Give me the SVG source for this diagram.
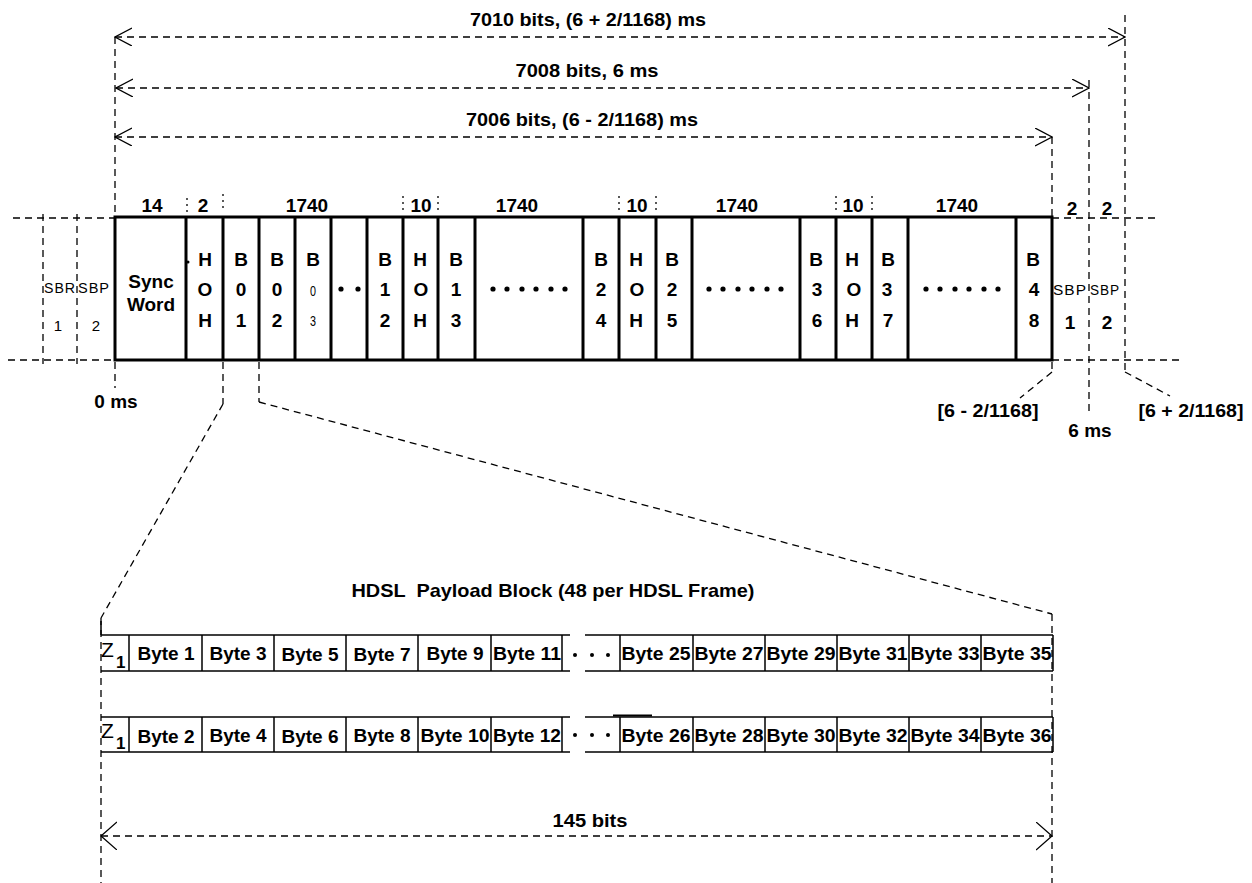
<svg xmlns="http://www.w3.org/2000/svg" width="1252" height="883" viewBox="0 0 1252 883">
<style>
.frame{fill:none;stroke:#000;stroke-width:3}
.thin{fill:none;stroke:#000;stroke-width:1.5}
.dash{fill:none;stroke:#000;stroke-width:1.3;stroke-dasharray:7 5}
.tick{fill:none;stroke:#000;stroke-width:1.3;stroke-dasharray:2 4}
.head{fill:none;stroke:#000;stroke-width:1.3}
text{font-family:"Liberation Sans",Arial,sans-serif;fill:#000}
.b{font-weight:bold;font-size:19px;text-anchor:middle}
.n{font-weight:normal;font-size:15px;text-anchor:middle}
.sb{font-weight:normal;font-size:15px;text-anchor:middle;letter-spacing:1px}
.dot{fill:#000}
</style>
<defs>
<marker id="arr" markerUnits="userSpaceOnUse" viewBox="0 0 18 20" refX="17" refY="9" markerWidth="18" markerHeight="20" orient="auto-start-reverse">
<path class="head" d="M0,0 L17,9 L0,18"/>
</marker>
<marker id="arr2" markerUnits="userSpaceOnUse" viewBox="0 0 18 30" refX="16" refY="14" markerWidth="18" markerHeight="30" orient="auto-start-reverse">
<path class="head" d="M0,0 L16,14 L0,28"/>
</marker>
</defs>
<rect width="1252" height="883" fill="#fff"/>

<g id="connectors">
<line class="dash" x1="115" y1="37" x2="1125" y2="37" marker-start="url(#arr)" marker-end="url(#arr)"/>
<line class="dash" x1="116" y1="88" x2="1089" y2="88" marker-start="url(#arr)" marker-end="url(#arr)"/>
<line class="dash" x1="115" y1="137" x2="1052" y2="137" marker-start="url(#arr)" marker-end="url(#arr)"/>
<line class="dash" x1="115" y1="37" x2="115" y2="217"/>
<line class="dash" x1="115" y1="362" x2="115" y2="388"/>
<line class="dash" x1="1125" y1="15" x2="1125" y2="372"/>
<line class="dash" x1="1125" y1="372" x2="1170" y2="396"/>
<line class="dash" x1="1089" y1="80" x2="1089" y2="412"/>
<line class="dash" x1="1052" y1="137" x2="1052" y2="217"/>
<line class="dash" x1="1052" y1="362" x2="1052" y2="372"/>
<line class="dash" x1="1052" y1="372" x2="1020" y2="398"/>
<line class="dash" x1="13" y1="218" x2="115" y2="218"/>
<line class="dash" x1="8" y1="360" x2="115" y2="360"/>
<line class="dash" x1="43" y1="214" x2="43" y2="364"/>
<line class="dash" x1="77" y1="214" x2="77" y2="364"/>
<line class="dash" x1="1052" y1="218" x2="1155" y2="218"/>
<line class="dash" x1="1052" y1="360" x2="1182" y2="360"/>
<line class="tick" x1="187" y1="198" x2="187" y2="212"/>
<line class="tick" x1="223" y1="194" x2="223" y2="212"/>
<line class="tick" x1="403" y1="196" x2="403" y2="212"/>
<line class="tick" x1="438" y1="196" x2="438" y2="212"/>
<line class="tick" x1="619" y1="196" x2="619" y2="212"/>
<line class="tick" x1="656" y1="196" x2="656" y2="212"/>
<line class="tick" x1="836" y1="196" x2="836" y2="212"/>
<line class="tick" x1="872" y1="196" x2="872" y2="212"/>
<line class="dash" x1="223" y1="362" x2="223" y2="404"/>
<line class="dash" x1="223" y1="404" x2="101" y2="618"/>
<line class="dash" x1="259" y1="362" x2="259" y2="402"/>
<line class="dash" x1="259" y1="402" x2="1052" y2="614"/>
<line class="dash" x1="101" y1="618" x2="101" y2="883"/>
<line class="dash" x1="1052" y1="614" x2="1052" y2="883"/>
<line class="dash" x1="101" y1="836" x2="1052" y2="836" marker-start="url(#arr2)" marker-end="url(#arr2)"/>
</g>

<g id="dim-labels">
<text class="b" x="588" y="26" textLength="236" lengthAdjust="spacingAndGlyphs">7010 bits, (6 + 2/1168) ms</text>
<text class="b" x="587" y="77" textLength="143" lengthAdjust="spacingAndGlyphs">7008 bits, 6 ms</text>
<text class="b" x="582" y="126" textLength="232" lengthAdjust="spacingAndGlyphs">7006 bits, (6 - 2/1168) ms</text>
<text class="b" x="116" y="408">0 ms</text>
<text class="b" x="988" y="417" textLength="101" lengthAdjust="spacingAndGlyphs">[6 - 2/1168]</text>
<text class="b" x="1090" y="437">6 ms</text>
<text class="b" x="1191" y="417" textLength="105" lengthAdjust="spacingAndGlyphs">[6 + 2/1168]</text>
</g>

<g id="field-widths">
<text class="b" x="152" y="212">14</text>
<text class="b" x="203" y="212">2</text>
<text class="b" x="307" y="212">1740</text>
<text class="b" x="421" y="212">10</text>
<text class="b" x="517" y="212">1740</text>
<text class="b" x="637" y="212">10</text>
<text class="b" x="737" y="212">1740</text>
<text class="b" x="853" y="212">10</text>
<text class="b" x="957" y="212">1740</text>
<text class="b" x="1072" y="215">2</text>
<text class="b" x="1107" y="215">2</text>
</g>

<g id="sbr-left">
<text class="sb" x="60" y="293" textLength="32" lengthAdjust="spacingAndGlyphs">SBR</text>
<text class="n" x="58" y="331" font-size="17">1</text>
</g>
<g id="sbp-left">
<text class="sb" x="94" y="293" textLength="32" lengthAdjust="spacingAndGlyphs">SBP</text>
<text class="n" x="96" y="331" font-size="17">2</text>
</g>

<g id="hdsl-frame">
<rect class="frame" x="115" y="217" width="937" height="143"/>
<path class="frame" d="M186,217V360M223,217V360M259,217V360M295,217V360M331,217V360M367,217V360M403,217V360M438,217V360M475,217V360M583,217V360M619,217V360M656,217V360M692,217V360M800,217V360M836,217V360M872,217V360M908,217V360M1016,217V360"/>
</g>

<g id="sync-word">
<text class="b" x="151" y="288">Sync</text>
<text class="b" x="151" y="311">Word</text>
</g>
<g id="hoh-1">
<circle class="dot" cx="188" cy="262" r="1.5"/>
<text class="b" x="205" y="266">H</text><text class="b" x="205" y="296">O</text><text class="b" x="205" y="327">H</text>
</g>
<g id="b01"><text class="b" x="241" y="266">B</text><text class="b" x="241" y="296">0</text><text class="b" x="241" y="327">1</text></g>
<g id="b02"><text class="b" x="277" y="266">B</text><text class="b" x="277" y="296">0</text><text class="b" x="277" y="327">2</text></g>
<g id="b03"><text class="b" x="313" y="266">B</text><text class="n" x="313" y="296" font-size="18" textLength="6" lengthAdjust="spacingAndGlyphs">0</text><text class="n" x="313" y="326" font-size="18" textLength="6" lengthAdjust="spacingAndGlyphs">3</text></g>
<g id="dots-1"><circle class="dot" cx="341" cy="289" r="2.6"/><circle class="dot" cx="358" cy="289" r="2.6"/></g>
<g id="b12"><text class="b" x="385" y="266">B</text><text class="b" x="385" y="296">1</text><text class="b" x="385" y="327">2</text></g>
<g id="hoh-2"><text class="b" x="420" y="266">H</text><text class="b" x="421" y="296">O</text><text class="b" x="420" y="327">H</text></g>
<g id="b13"><text class="b" x="456" y="266">B</text><text class="b" x="456" y="296">1</text><text class="b" x="456" y="327">3</text></g>
<g id="dots-2"><circle class="dot" cx="493" cy="289" r="2.6"/><circle class="dot" cx="507" cy="289" r="2.6"/><circle class="dot" cx="522" cy="289" r="2.6"/><circle class="dot" cx="536" cy="289" r="2.6"/><circle class="dot" cx="551" cy="289" r="2.6"/><circle class="dot" cx="565" cy="289" r="2.6"/></g>
<g id="b24"><text class="b" x="601" y="266">B</text><text class="b" x="601" y="296">2</text><text class="b" x="601" y="327">4</text></g>
<g id="hoh-3"><text class="b" x="636" y="266">H</text><text class="b" x="637" y="296">O</text><text class="b" x="636" y="327">H</text></g>
<g id="b25"><text class="b" x="672" y="266">B</text><text class="b" x="672" y="296">2</text><text class="b" x="672" y="327">5</text></g>
<g id="dots-3"><circle class="dot" cx="709" cy="289" r="2.6"/><circle class="dot" cx="723" cy="289" r="2.6"/><circle class="dot" cx="738" cy="289" r="2.6"/><circle class="dot" cx="752" cy="289" r="2.6"/><circle class="dot" cx="767" cy="289" r="2.6"/><circle class="dot" cx="781" cy="289" r="2.6"/></g>
<g id="b36"><text class="b" x="816" y="266">B</text><text class="b" x="817" y="296">3</text><text class="b" x="817" y="327">6</text></g>
<g id="hoh-4"><text class="b" x="852" y="266">H</text><text class="b" x="854" y="296">O</text><text class="b" x="852" y="327">H</text></g>
<g id="b37"><text class="b" x="888" y="266">B</text><text class="b" x="887" y="296">3</text><text class="b" x="888" y="327">7</text></g>
<g id="dots-4"><circle class="dot" cx="926" cy="289" r="2.6"/><circle class="dot" cx="940" cy="289" r="2.6"/><circle class="dot" cx="955" cy="289" r="2.6"/><circle class="dot" cx="969" cy="289" r="2.6"/><circle class="dot" cx="984" cy="289" r="2.6"/><circle class="dot" cx="998" cy="289" r="2.6"/></g>
<g id="b48"><text class="b" x="1033" y="266">B</text><text class="b" x="1034" y="296">4</text><text class="b" x="1034" y="327">8</text></g>

<g id="sbp-right-1">
<text class="sb" x="1070" y="295" textLength="34" lengthAdjust="spacingAndGlyphs">SBP</text>
<text class="b" x="1070" y="329">1</text>
</g>
<g id="sbp-right-2">
<text class="sb" x="1105" y="295" textLength="30" lengthAdjust="spacingAndGlyphs">SBP</text>
<text class="b" x="1107" y="329">2</text>
</g>

<g id="payload-title">
<text class="b" x="553" y="597" textLength="403" lengthAdjust="spacingAndGlyphs" xml:space="preserve">HDSL  Payload Block (48 per HDSL Frame)</text>
</g>

<g id="payload-row-1">
<path class="thin" d="M101,635H570M101,671H570M585,635H1053M585,671H1053M129,635V671M202,635V671M274,635V671M346,635V671M418,635V671M491,635V671M562,635V671M620,635V671M693,635V671M765,635V671M837,635V671M909,635V671M981,635V671M1053,635V671M101,621V635"/>
<text x="101" y="657" font-size="21">Z</text><text x="116" y="668" font-size="17" font-weight="bold">1</text>
<text class="b" x="166" y="660">Byte 1</text>
<text class="b" x="238" y="660">Byte 3</text>
<text class="b" x="310" y="661">Byte 5</text>
<text class="b" x="382" y="661">Byte 7</text>
<text class="b" x="455" y="660">Byte 9</text>
<text class="b" x="527" y="660" textLength="68" lengthAdjust="spacingAndGlyphs">Byte 11</text>
<circle class="dot" cx="575" cy="655" r="2"/><circle class="dot" cx="592" cy="655" r="2"/><circle class="dot" cx="608" cy="655" r="2"/>
<text class="b" x="656" y="660" textLength="69" lengthAdjust="spacingAndGlyphs">Byte 25</text>
<text class="b" x="729" y="660" textLength="69" lengthAdjust="spacingAndGlyphs">Byte 27</text>
<text class="b" x="801" y="660" textLength="69" lengthAdjust="spacingAndGlyphs">Byte 29</text>
<text class="b" x="873" y="660" textLength="69" lengthAdjust="spacingAndGlyphs">Byte 31</text>
<text class="b" x="945" y="660" textLength="69" lengthAdjust="spacingAndGlyphs">Byte 33</text>
<text class="b" x="1017" y="660" textLength="69" lengthAdjust="spacingAndGlyphs">Byte 35</text>
</g>

<g id="payload-row-2">
<path class="thin" d="M101,717H570M101,752H570M585,717H1053M585,752H1053M129,717V752M202,717V752M274,717V752M346,717V752M418,717V752M491,717V752M562,717V752M620,717V752M693,717V752M765,717V752M837,717V752M909,717V752M981,717V752M1053,717V752"/>
<path d="M613,715.5H652" stroke="#000" stroke-width="2"/>
<text x="101" y="738" font-size="21">Z</text><text x="116" y="749" font-size="17" font-weight="bold">1</text>
<text class="b" x="166" y="743">Byte 2</text>
<text class="b" x="238" y="742">Byte 4</text>
<text class="b" x="310" y="743">Byte 6</text>
<text class="b" x="382" y="742">Byte 8</text>
<text class="b" x="455" y="742" textLength="69" lengthAdjust="spacingAndGlyphs">Byte 10</text>
<text class="b" x="527" y="742" textLength="68" lengthAdjust="spacingAndGlyphs">Byte 12</text>
<circle class="dot" cx="575" cy="735" r="2"/><circle class="dot" cx="592" cy="735" r="2"/><circle class="dot" cx="608" cy="735" r="2"/>
<text class="b" x="656" y="742" textLength="69" lengthAdjust="spacingAndGlyphs">Byte 26</text>
<text class="b" x="729" y="742" textLength="69" lengthAdjust="spacingAndGlyphs">Byte 28</text>
<text class="b" x="801" y="742" textLength="69" lengthAdjust="spacingAndGlyphs">Byte 30</text>
<text class="b" x="873" y="742" textLength="69" lengthAdjust="spacingAndGlyphs">Byte 32</text>
<text class="b" x="945" y="742" textLength="69" lengthAdjust="spacingAndGlyphs">Byte 34</text>
<text class="b" x="1017" y="742" textLength="69" lengthAdjust="spacingAndGlyphs">Byte 36</text>
</g>

<g id="size-label">
<text class="b" x="590" y="827" textLength="75" lengthAdjust="spacingAndGlyphs">145 bits</text>
</g>
</svg>
